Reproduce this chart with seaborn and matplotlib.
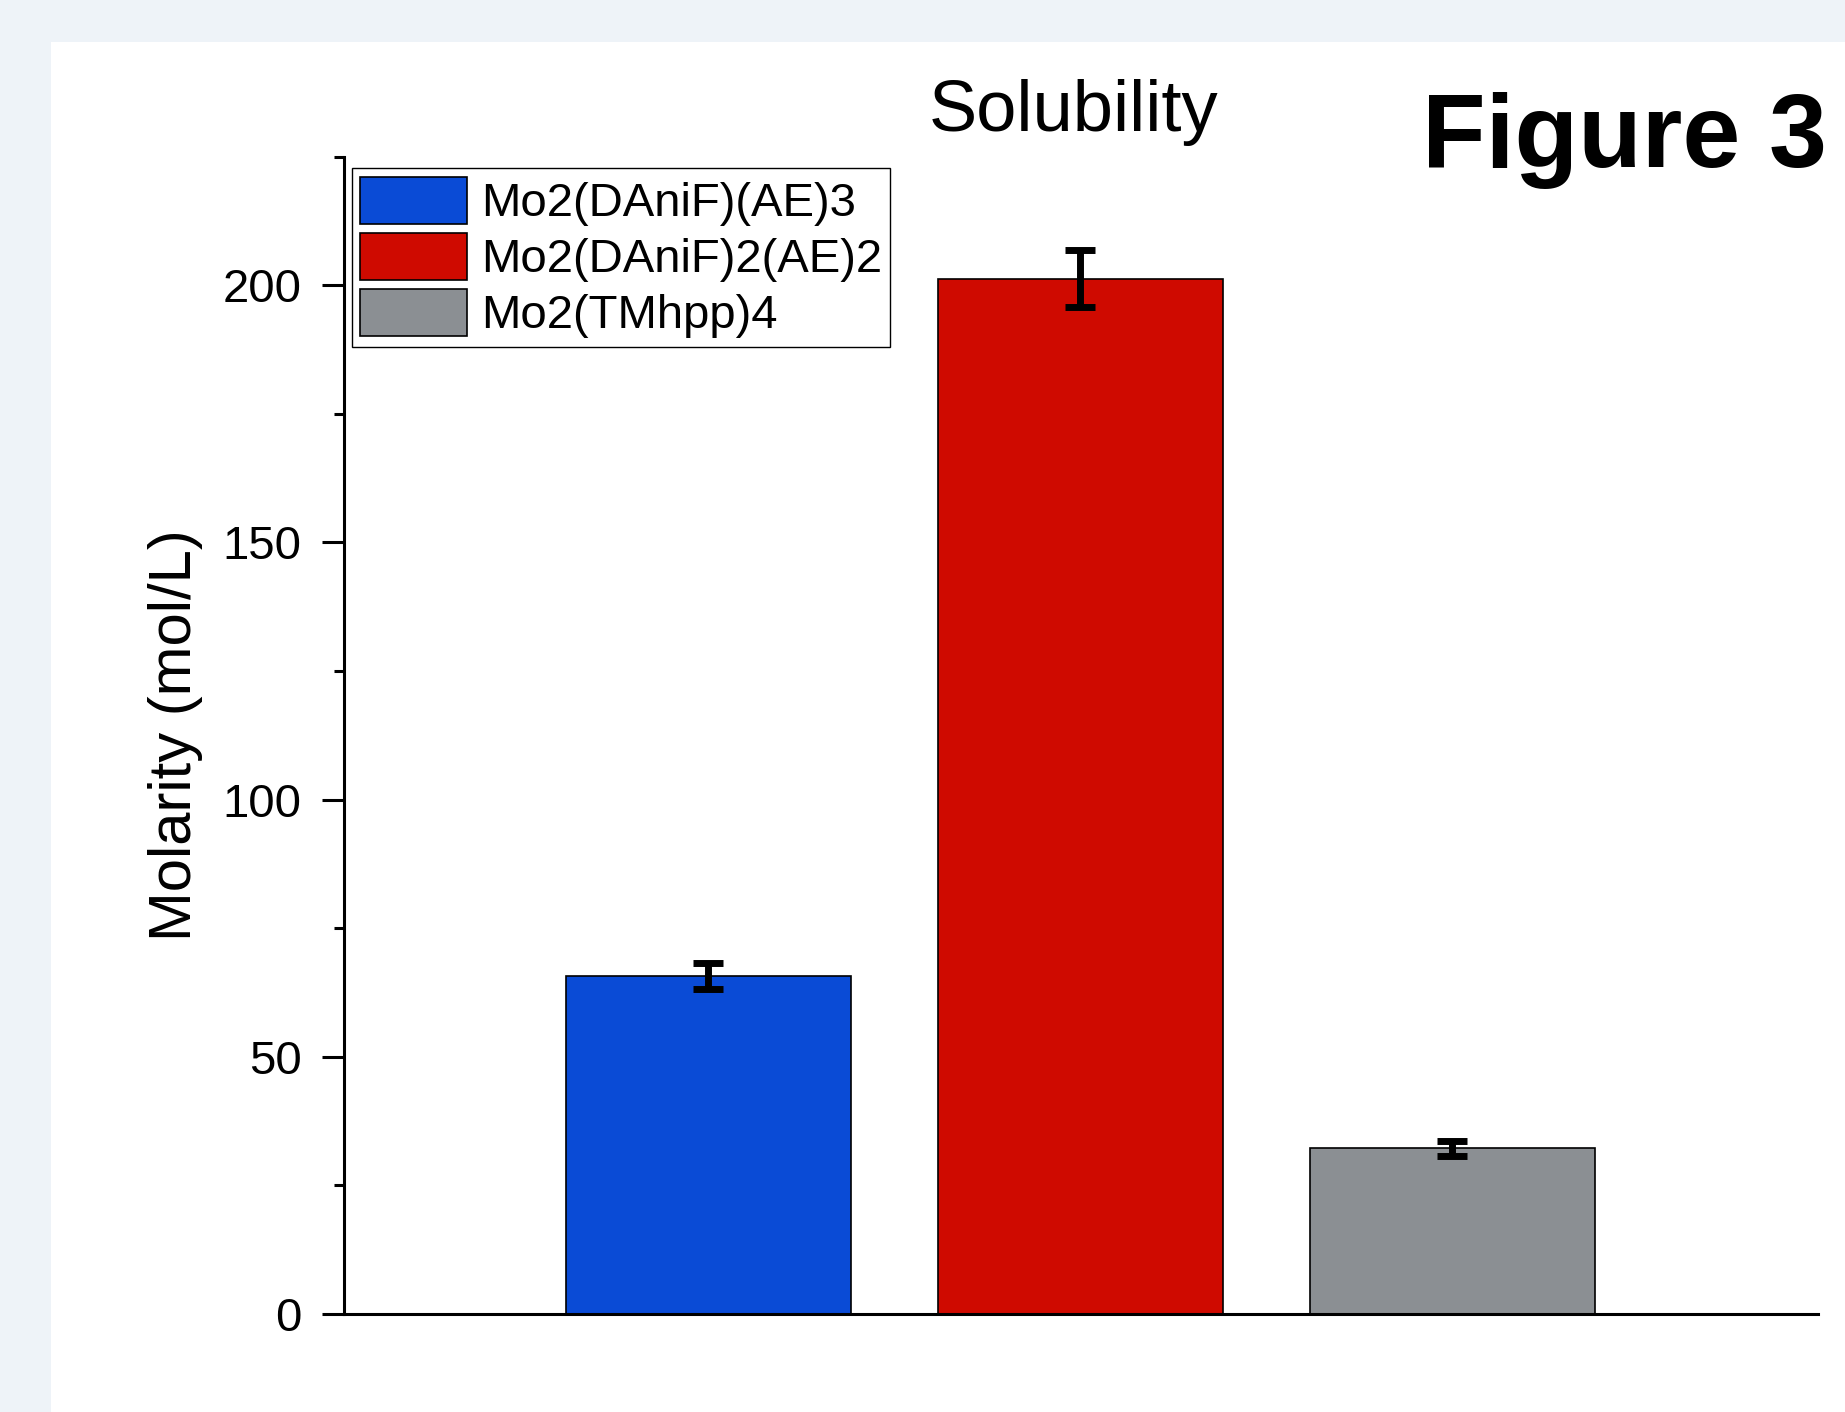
import numpy as np
import pandas as pd
import seaborn as sns
import matplotlib.pyplot as plt
from matplotlib.patches import Patch, Rectangle
from matplotlib.ticker import MultipleLocator

# Dữ liệu
compounds = ['Mo2(DAniF)(AE)3', 'Mo2(DAniF)2(AE)2', 'Mo2(TMhpp)4']
molarity = [65.7, 201.3, 32.2]
errors = [2.6, 5.5, 1.5]
colors = ['#0A4BD6', '#CF0A00', '#8B8F93']
y_ticks = [0, 50, 100, 150, 200]

df = pd.DataFrame({'compound': compounds, 'molarity': molarity})

sns.set_style('ticks')
plt.rcParams['font.family'] = ['Liberation Sans', 'DejaVu Sans']
plt.rcParams['text.color'] = 'black'
plt.rcParams['axes.labelcolor'] = 'black'
plt.rcParams['ytick.color'] = 'black'

fig = plt.figure(figsize=(18.45, 14.12), dpi=100, facecolor='#EEF3F8')
# khung trắng phía sau biểu đồ
fig.patches.append(Rectangle((51 / 1845, 0), 1, (1412 - 42) / 1412,
                             transform=fig.transFigure, facecolor='white',
                             edgecolor='none', zorder=-10))

ax = fig.add_axes([0.1862, 0.0694, 0.7992, 0.8196])
ax.set_facecolor('white')

sns.barplot(data=df, x='compound', y='molarity', hue='compound',
            palette=colors, width=0.766, errorbar=None, legend=False,
            edgecolor='black', linewidth=1.2, saturation=1, ax=ax)
ax.errorbar(range(len(compounds)), molarity, yerr=errors, fmt='none',
            ecolor='black', elinewidth=5, capsize=11, capthick=5, zorder=5)

ax.set_xlim(-0.98, 2.984)
ax.set_ylim(0, 225)
ax.set_xticks([])
ax.set_xlabel('')
ax.set_yticks(y_ticks)
ax.yaxis.set_minor_locator(MultipleLocator(25))
ax.tick_params(axis='y', which='major', length=16, width=2.2, pad=14,
               labelsize=34, direction='out', color='black')
ax.tick_params(axis='y', which='minor', length=7, width=2.2, direction='out')
ax.set_ylabel('Molarity (mol/L)', fontsize=43, labelpad=14)

sns.despine(ax=ax)
for s in ['left', 'bottom']:
    ax.spines[s].set_linewidth(2.2)
    ax.spines[s].set_color('black')

handles = [Patch(facecolor=c, edgecolor='black', linewidth=1.2) for c in colors]
leg = ax.legend(handles, compounds, loc='upper left', bbox_to_anchor=(0.0057, 0.990),
                borderaxespad=0, fontsize=34, frameon=True, fancybox=False,
                framealpha=1, edgecolor='black', handlelength=2.25,
                handleheight=1.15, labelspacing=0.14, borderpad=0.18,
                handletextpad=0.3)
leg.get_frame().set_linewidth(1.0)

fig.text(0.582, 0.9075, 'Solubility', fontsize=52, ha='center', va='baseline')
fig.text(0.771, 0.8817, 'Figure 3', fontsize=75, fontweight='bold',
         ha='left', va='baseline')

fig.savefig('out.png', dpi=100, facecolor=fig.get_facecolor())
